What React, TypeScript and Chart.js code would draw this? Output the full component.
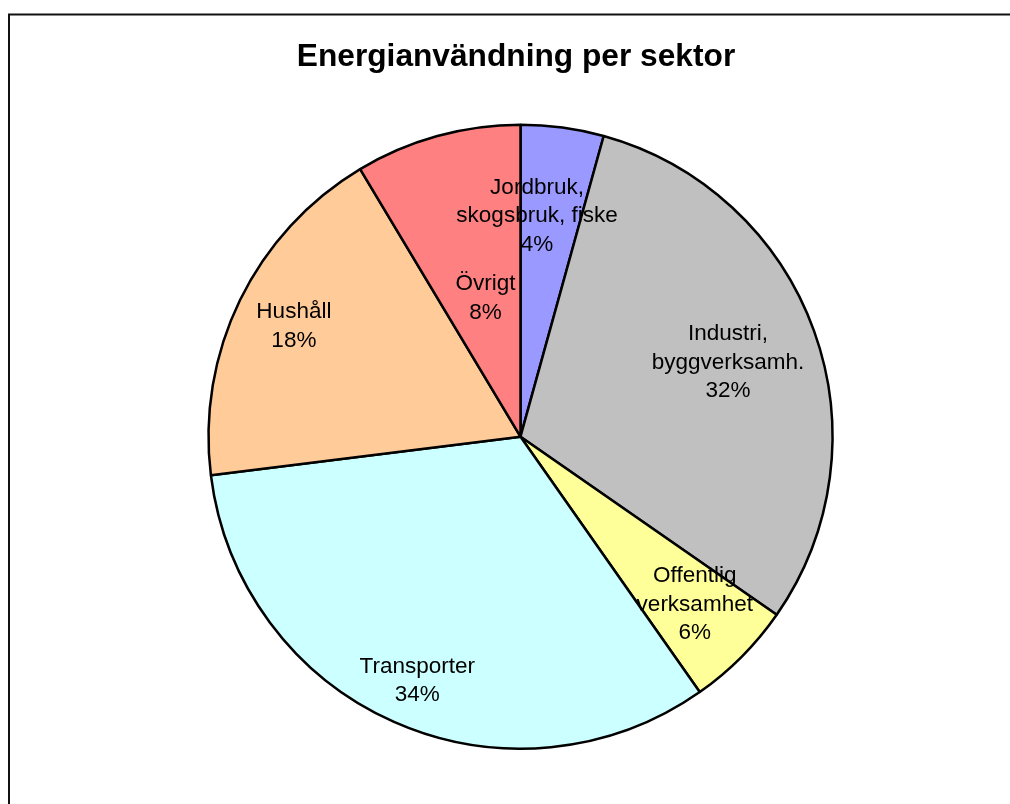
import React, { useEffect, useRef } from "react";
import { Chart, registerables } from "chart.js";

Chart.register(...registerables);

const TITLE = "Energianvändning per sektor";
const SECTORS = [
  "Jordbruk, skogsbruk, fiske",
  "Industri, byggverksamh.",
  "Offentlig verksamhet",
  "Transporter",
  "Hushåll",
  "Övrigt",
];
const LABEL_LINES = [
  ["Jordbruk,", "skogsbruk, fiske"],
  ["Industri,", "byggverksamh."],
  ["Offentlig", "verksamhet"],
  ["Transporter"],
  ["Hushåll"],
  ["Övrigt"],
];
const SHARES = [4.3, 30.4, 5.6, 32.8, 18.4, 8.6];
const PCT_LABELS = ["4%", "32%", "6%", "34%", "18%", "8%"];
const COLORS = ["#9999FF", "#C0C0C0", "#FFFF99", "#CCFFFF", "#FFCC99", "#FF8080"];

// label placement (fraction of radius, angular shift in degrees)
const LABEL_RADIUS = [0.709, 0.706, 0.776, 0.85, 0.808, 0.457];
const LABEL_SHIFT = [-3.45, 0.25, -0.9, -1, 0, 1.25];

const FONT = "'Liberation Sans', Arial, Helvetica, sans-serif";

const decorPlugin = {
  id: "decor",
  beforeDraw(chart: any) {
    const ctx = chart.ctx;
    ctx.save();
    ctx.fillStyle = "#ffffff";
    ctx.fillRect(0, 0, chart.width, chart.height);
    ctx.strokeStyle = "#111111";
    ctx.lineWidth = 2;
    ctx.strokeRect(9, 14.5, 1200, 1000);
    ctx.fillStyle = "#000000";
    ctx.font = `bold 31.7px ${FONT}`;
    ctx.textAlign = "center";
    ctx.textBaseline = "alphabetic";
    ctx.fillText(TITLE, 516, 66);
    ctx.restore();
  },
  afterDatasetsDraw(chart: any) {
    const ctx = chart.ctx;
    const meta = chart.getDatasetMeta(0);
    ctx.save();
    ctx.fillStyle = "#000000";
    ctx.font = `22.5px ${FONT}`;
    ctx.textAlign = "center";
    ctx.textBaseline = "middle";
    const lh = 28.5;
    meta.data.forEach((arc: any, i: number) => {
      const mid = (arc.startAngle + arc.endAngle) / 2 + (LABEL_SHIFT[i] * Math.PI) / 180;
      const r = arc.outerRadius * LABEL_RADIUS[i];
      const cx = arc.x + Math.cos(mid) * r;
      const cy = arc.y + Math.sin(mid) * r;
      const lines = [...LABEL_LINES[i], PCT_LABELS[i]];
      const n = lines.length;
      lines.forEach((t, j) => {
        ctx.fillText(t, cx, cy + (j - (n - 1) / 2) * lh);
      });
    });
    ctx.restore();
  },
};

export default function App() {
  const ref = useRef<HTMLCanvasElement | null>(null);
  useEffect(() => {
    if (!ref.current) return;
    const chart = new Chart(ref.current, {
      type: "pie",
      data: {
        labels: SECTORS,
        datasets: [
          {
            data: SHARES,
            backgroundColor: COLORS,
            borderColor: "#000000",
            borderWidth: 2.5,
          },
        ],
      },
      options: {
        responsive: false,
        animation: false,
        radius: 312,
        layout: { padding: { left: 131, right: 100, top: 120, bottom: 50.6 } },
        plugins: {
          legend: { display: false },
          tooltip: { enabled: false },
          title: { display: false },
        },
      } as any,
      plugins: [decorPlugin],
    });
    return () => chart.destroy();
  }, []);
  return (
    <canvas
      ref={ref}
      width={1010}
      height={804}
      style={{ position: "fixed", left: 0, top: 0, display: "block" }}
    />
  );
}
